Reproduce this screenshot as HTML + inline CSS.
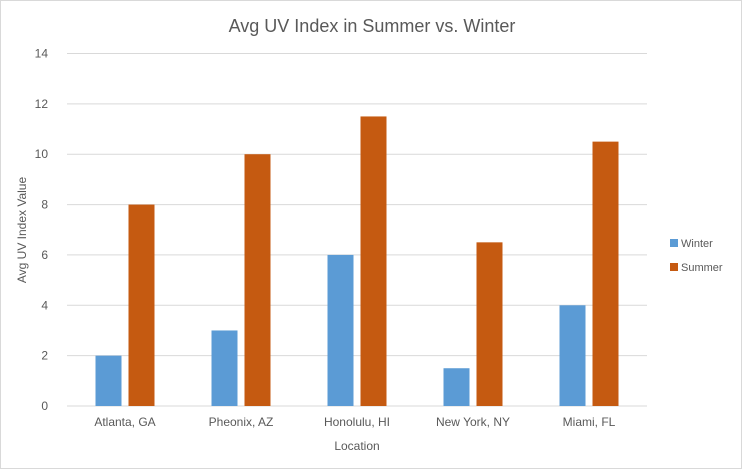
<!DOCTYPE html>
<html><head><meta charset="utf-8"><style>
body{margin:0;background:#fff;font-family:"Liberation Sans",sans-serif}
svg text{font-family:"Liberation Sans",sans-serif}
</style></head><body>
<svg id="chart" width="743" height="471">
<rect x="0.5" y="0.5" width="741" height="468" fill="#fff" stroke="#d9d9d9"/>
<text x="372" y="32" text-anchor="middle" font-size="18" fill="#595959">Avg UV Index in Summer vs. Winter</text>
<g id="grid"></g><g id="bars"></g><g id="labels"></g>
<text transform="translate(26,230) rotate(-90)" text-anchor="middle" font-size="12" fill="#595959">Avg UV Index Value</text>
<text x="357" y="450" text-anchor="middle" font-size="12" fill="#595959">Location</text>
<rect x="670" y="239" width="8" height="8" fill="#5b9bd5"/>
<text x="681" y="247" font-size="11" fill="#595959">Winter</text>
<rect x="670" y="263" width="8" height="8" fill="#c55a11"/>
<text x="681" y="271" font-size="11" fill="#595959">Summer</text>
</svg>
<script>
const categories=["Atlanta, GA","Pheonix, AZ","Honolulu, HI","New York, NY","Miami, FL"];
const winter=[2,3,6,1.5,4];
const summer=[8,10,11.5,6.5,10.5];
const ticks=[0,2,4,6,8,10,12,14];
const NS="http://www.w3.org/2000/svg";
const L=67,R=647,T=53.5,B=406,MAX=14;
const y=v=>B-(v/MAX)*(B-T);
const bw=(R-L)/categories.length;
const cx=i=>L+bw*(i+0.5);
function mk(tag,attrs,parent,txt){const e=document.createElementNS(NS,tag);for(const k in attrs)e.setAttribute(k,attrs[k]);if(txt!=null)e.textContent=txt;document.getElementById(parent).appendChild(e);return e;}
ticks.forEach(t=>{
  const l=mk('line',{x1:L,x2:R,y1:y(t),y2:y(t),stroke:'#d9d9d9','stroke-width':1},'grid');
  
  
  const tx=mk('text',{x:48,y:y(t)+4,'text-anchor':'end','font-size':12,fill:'#595959'},'labels',t);
  
  
});
const barW=26,gap=7;
categories.forEach((c,i)=>{
  const w=mk('rect',{x:cx(i)-gap/2-barW,y:y(winter[i]),width:barW,height:B-y(winter[i]),fill:'#5b9bd5'},'bars');
  
  
  const s=mk('rect',{x:cx(i)+gap/2,y:y(summer[i]),width:barW,height:B-y(summer[i]),fill:'#c55a11'},'bars');
  
  
  const t=mk('text',{x:cx(i),y:426,'text-anchor':'middle','font-size':12,fill:'#595959'},'labels',c);
  
  
});
</script>
</body></html>
